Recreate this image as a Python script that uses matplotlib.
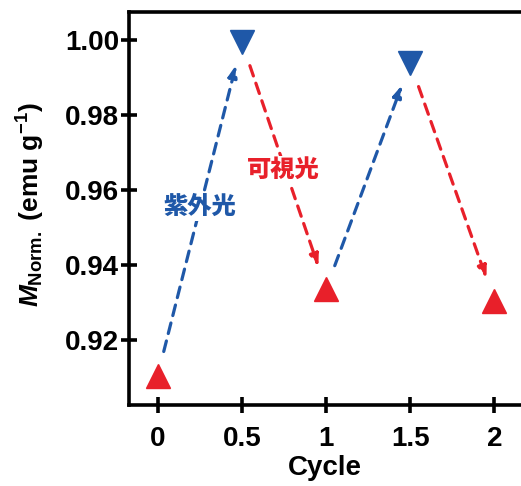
import matplotlib
matplotlib.use('Agg')
import matplotlib.pyplot as plt

# 数据
cycle = [0, 0.5, 1, 1.5, 2]
m_norm = [0.9105, 0.9995, 0.9336, 0.9939, 0.9305]
light = ['vis', 'uv', 'vis', 'uv', 'vis']   # 照射后的状态
x_ticks = [0, 0.5, 1, 1.5, 2]
x_tick_labels = ['0', '0.5', '1', '1.5', '2']
y_ticks = [0.92, 0.94, 0.96, 0.98, 1.00]
y_tick_labels = ['0.92', '0.94', '0.96', '0.98', '1.00']

RED = '#e8202a'
BLUE = '#1f58a8'

plt.rcParams['font.family'] = ['Liberation Sans', 'Noto Sans CJK JP']
plt.rcParams['mathtext.fontset'] = 'custom'
plt.rcParams['mathtext.rm'] = 'Liberation Sans:bold'
plt.rcParams['mathtext.it'] = 'Liberation Sans:bold:italic'
plt.rcParams['mathtext.bf'] = 'Liberation Sans:bold'

fig = plt.figure(figsize=(5.21, 4.86), dpi=100)
ax = fig.add_axes([0.2476, 0.1667, 0.766, 0.8086])

# 箭头（虚线）
for i in range(len(cycle) - 1):
    c = BLUE if light[i + 1] == 'uv' else RED
    ax.annotate('', xy=(cycle[i + 1], m_norm[i + 1]), xytext=(cycle[i], m_norm[i]),
                arrowprops=dict(arrowstyle='-|>,head_length=0.7,head_width=0.26',
                                color=c, lw=2.3, linestyle=(0, (3.4, 2.4)),
                                shrinkA=18, shrinkB=17), zorder=2)

# 点
for x, y, s in zip(cycle, m_norm, light):
    if s == 'uv':
        ax.plot(x, y, marker='v', ms=17, color=BLUE, mec=BLUE, zorder=3)
    else:
        ax.plot(x, y, marker='^', ms=17, color=RED, mec=RED, zorder=3)

ax.text(0.25, 0.9555, '紫外光', color=BLUE, fontsize=17.5, fontweight='heavy',
        ha='center', va='center', family=['Noto Sans CJK JP'], zorder=4,
        bbox=dict(fc='white', ec='none', pad=1))
ax.text(0.745, 0.9655, '可視光', color=RED, fontsize=17.5, fontweight='heavy',
        ha='center', va='center', family=['Noto Sans CJK JP'], zorder=4,
        bbox=dict(fc='white', ec='none', pad=1))

ax.set_xlim(-0.17, 2.2)
ax.set_ylim(0.9027, 1.0075)
ax.set_xticks(x_ticks)
ax.set_xticklabels(x_tick_labels)
ax.set_yticks(y_ticks)
ax.set_yticklabels(y_tick_labels)
ax.tick_params(direction='inout', length=12, width=2.6, labelsize=20)
ax.tick_params(axis='x', pad=9)
ax.tick_params(axis='y', pad=1)
for lab in ax.get_xticklabels() + ax.get_yticklabels():
    lab.set_fontweight('bold')
for sp in ax.spines.values():
    sp.set_linewidth(2.6)

ax.set_xlabel('Cycle', fontsize=20, fontweight='bold')
ax.set_ylabel(r'$\mathit{M}_{\mathrm{Norm.}}$ (emu g$^{-1}$)', fontsize=19, fontweight='bold')
ax.xaxis.set_label_coords(0.491, -0.128)
ax.yaxis.set_label_coords(-0.205, 0.51)

fig.savefig('out.png', dpi=100)
